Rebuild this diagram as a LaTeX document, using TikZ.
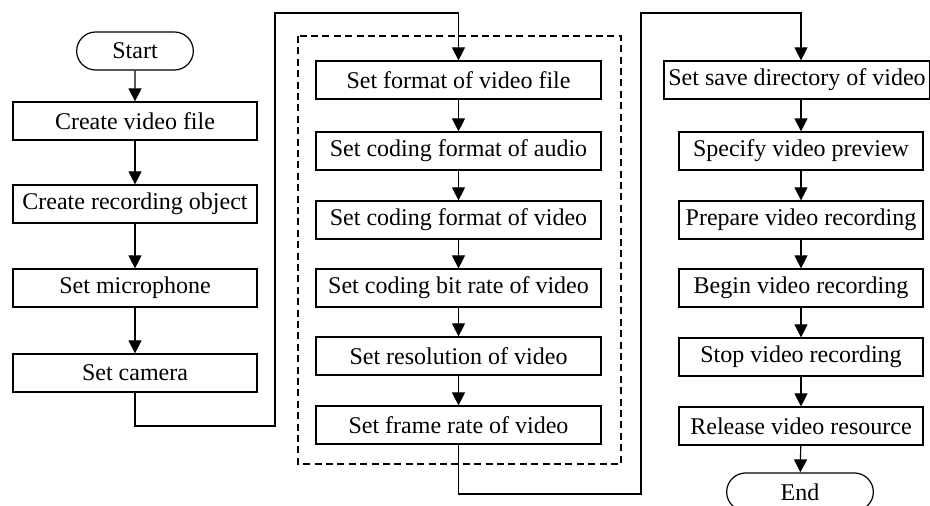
\documentclass[tikz,border=0pt]{standalone}
\usepackage{fontspec}
\setmainfont{Liberation Serif}
\usepackage{tikz}
\usetikzlibrary{arrows.meta, shapes.misc}

\tikzset{
    stepbox/.style={draw, rectangle, line width=0.6pt, minimum height=19pt, inner sep=1pt, font=\fontsize{12}{14}\selectfont},
    terminal/.style={draw, rounded rectangle, line width=0.6pt, minimum height=19pt, font=\fontsize{12}{14}\selectfont},
    flow/.style={line width=0.6pt, -{Triangle[width=6.5pt, length=6.5pt]}},
}

\begin{document}
\begin{tikzpicture}[x=0.5pt, y=-0.5pt]
        \useasboundingbox (0, 0) rectangle (930, 506);

        % left column
        \node[terminal, minimum width=65pt] (start) at (135, 51) {Start};
        \node[stepbox, minimum width=122pt] (cvf) at (135, 121) {Create video file};
        \node[stepbox, minimum width=122pt] (cro) at (135, 204) {Create recording object};
        \node[stepbox, minimum width=122pt] (mic) at (135, 288) {Set microphone};
        \node[stepbox, minimum width=122pt] (cam) at (135, 373) {Set camera};

        % middle column
        \draw[line width=0.6pt, dash pattern=on 3.5pt off 2.2pt] (298, 36) rectangle (621, 464);
        \node[stepbox, minimum width=142.5pt] (sfv) at (458.5, 80) {Set format of video file};
        \node[stepbox, minimum width=142.5pt] (cfa) at (458.5, 151) {Set coding format of audio};
        \node[stepbox, minimum width=142.5pt] (cfv) at (458.5, 220) {Set coding format of video};
        \node[stepbox, minimum width=142.5pt] (cbr) at (458.5, 288) {Set coding bit rate of video};
        \node[stepbox, minimum width=142.5pt] (res) at (458.5, 356) {Set resolution of video};
        \node[stepbox, minimum width=142.5pt] (fps) at (458.5, 425) {Set frame rate of video};

        % right column
        \node[stepbox, minimum width=133pt] (dir) at (797, 80) {Set save directory of video};
        \node[stepbox, minimum width=122pt] (pre) at (801, 151) {Specify video preview};
        \node[stepbox, minimum width=122pt] (prep) at (801, 220) {Prepare video recording};
        \node[stepbox, minimum width=122pt] (beg) at (801, 288) {Begin video recording};
        \node[stepbox, minimum width=122pt] (stop) at (801, 357) {Stop video recording};
        \node[stepbox, minimum width=122pt] (rel) at (801, 426) {Release video resource};
        \node[terminal, minimum width=80pt] (end) at (800, 492) {End};

        \coordinate (jumpA) at (275, 426);
        \coordinate (bendA) at (275, 13);
        \coordinate (jumpB) at (641, 494);
        \coordinate (bendB) at (641, 13);

        \draw[flow] (start) -- (cvf);
        \draw[flow] (cvf) -- (cro);
        \draw[flow] (cro) -- (mic);
        \draw[flow] (mic) -- (cam);
        \draw[flow] (cam.south) |- (jumpA) -- (bendA) -| (sfv.north);

        \draw[flow] (sfv) -- (cfa);
        \draw[flow] (cfa) -- (cfv);
        \draw[flow] (cfv) -- (cbr);
        \draw[flow] (cbr) -- (res);
        \draw[flow] (res) -- (fps);
        \draw[flow] (fps.south) |- (jumpB) -- (bendB) -| (dir.north -| pre.north);

        \draw[flow] (dir.south -| pre.south) -- (pre);
        \draw[flow] (pre) -- (prep);
        \draw[flow] (prep) -- (beg);
        \draw[flow] (beg) -- (stop);
        \draw[flow] (stop) -- (rel);
        \draw[flow] (rel) -- (end);

    \end{tikzpicture}
\end{document}
